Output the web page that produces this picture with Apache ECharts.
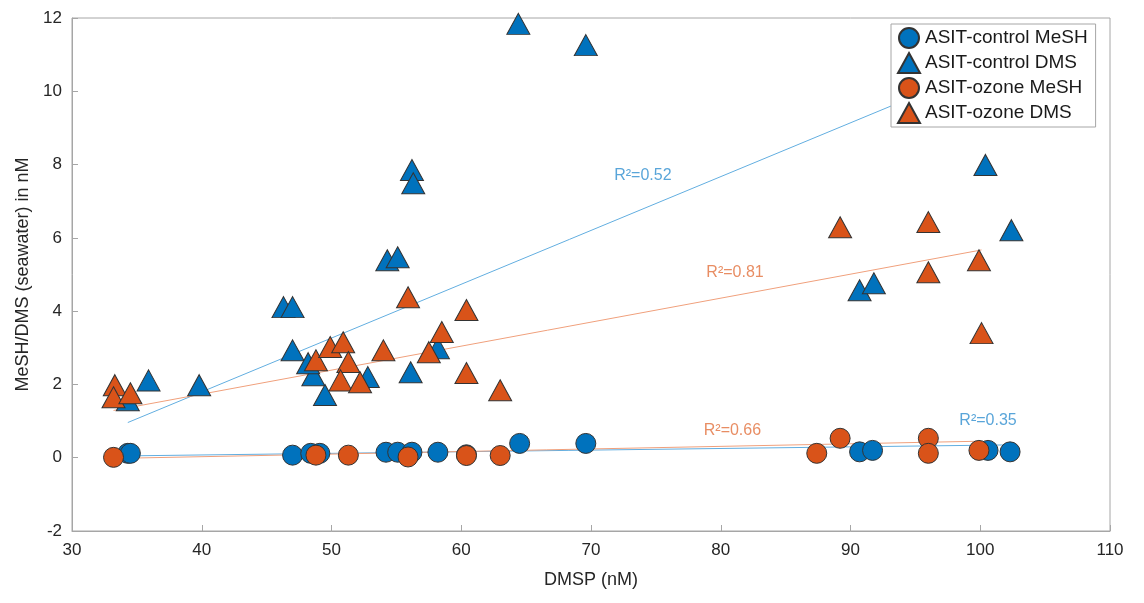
<!DOCTYPE html>
<html>
<head>
<meta charset="utf-8">
<script src="https://cdn.jsdelivr.net/npm/echarts@6/dist/echarts.min.js"></script>
<style>
html, body { margin: 0; padding: 0; background: #fff; }
#chart { width: 1144px; height: 603px; }
</style>
</head>
<body>
<div id="chart"></div>
<script>
// [DMSP, MeSH] / [DMSP, DMS] in nM
const controlMeSH = [
  [34.3, 0.12], [34.5, 0.12], [47.0, 0.07], [48.4, 0.12], [49.1, 0.12],
  [54.2, 0.15], [55.1, 0.15], [56.2, 0.15], [58.2, 0.15], [60.4, 0.08],
  [64.5, 0.39], [69.6, 0.39], [90.7, 0.16], [91.7, 0.2], [100.6, 0.2], [102.3, 0.16]
]
const controlDMS = [
  [34.3, 1.57], [35.9, 2.11], [39.8, 1.98], [46.3, 4.11], [47.0, 4.11],
  [47.0, 2.93], [48.6, 2.25], [48.2, 2.58], [49.5, 1.71], [52.8, 2.2],
  [56.2, 7.85], [56.3, 7.49], [54.3, 5.39], [55.1, 5.47], [58.2, 2.99],
  [56.1, 2.33], [64.4, 11.84], [69.6, 11.26], [100.4, 7.99], [102.4, 6.21],
  [90.7, 4.57], [91.8, 4.76]
]
const ozoneMeSH = [
  [33.2, 0.01], [48.8, 0.07], [51.3, 0.07], [55.9, 0.02], [60.4, 0.06],
  [63.0, 0.06], [87.4, 0.12], [89.2, 0.53], [96.0, 0.53], [96.0, 0.12], [99.9, 0.2]
]
const ozoneDMS = [
  [33.3, 1.98], [33.2, 1.65], [34.5, 1.76], [48.8, 2.66], [49.9, 3.02],
  [50.9, 3.15], [51.3, 2.61], [50.7, 2.11], [52.2, 2.06], [55.9, 4.38],
  [60.4, 4.03], [58.5, 3.43], [57.5, 2.88], [54.0, 2.93], [60.4, 2.31],
  [63.0, 1.84], [89.2, 6.29], [96.0, 6.43], [96.0, 5.06], [99.9, 5.39], [100.1, 3.4]
]
// fitted lines, end points
const fitControlDMS = [[34.3, 0.96], [102.4, 10.96]]
const fitOzoneDMS = [[33.2, 1.29], [100.1, 5.67]]
const fitControlMeSH = [[34.3, 0.05], [102.3, 0.35]]
const fitOzoneMeSH = [[33.2, -0.02], [99.9, 0.45]]
// R² labels: [x, y, text]
const r2Control = [[74.0, 7.71, 'R²=0.52'], [100.6, 1.02, 'R²=0.35']]
const r2Ozone = [[81.1, 5.04, 'R²=0.81'], [80.9, 0.75, 'R²=0.66']]

const blue = '#0072BD'
const orange = '#D95319'
const font = 'Liberation Sans, Arial, sans-serif'

const chart = echarts.init(document.getElementById('chart'))

function fitLine (data, color) {
  return {
    type: 'line',
    data: data,
    showSymbol: false,
    silent: true,
    z: 1,
    lineStyle: { color: color, width: 1 }
  }
}

function scatter (name, data, symbol, size, color) {
  return {
    name: name,
    type: 'scatter',
    data: data,
    symbol: symbol,
    symbolSize: size,
    z: 3,
    itemStyle: { color: color, borderColor: '#333', borderWidth: 1, opacity: 1 }
  }
}

function r2 (data, color) {
  return {
    type: 'scatter',
    data: data,
    symbolSize: 1,
    silent: true,
    z: 4,
    itemStyle: { color: 'rgba(0,0,0,0)' },
    label: {
      show: true,
      position: 'inside',
      formatter: p => p.data[2],
      color: color,
      fontSize: 16,
      fontFamily: font
    }
  }
}

chart.setOption({
  animation: false,
  textStyle: { fontFamily: font },
  grid: {
    left: 72,
    right: 34,
    top: 18,
    bottom: 72,
    show: true,
    borderColor: '#a6a6a6',
    borderWidth: 1
  },
  legend: {
    data: [
      { name: 'ASIT-control MeSH', icon: 'circle' },
      { name: 'ASIT-control DMS', icon: 'triangle' },
      { name: 'ASIT-ozone MeSH', icon: 'circle' },
      { name: 'ASIT-ozone DMS', icon: 'triangle' }
    ],
    orient: 'vertical',
    left: 891,
    top: 24,
    padding: [3, 8, 3, 6],
    itemGap: 3,
    itemWidth: 22,
    itemHeight: 20,
    backgroundColor: '#fff',
    borderColor: '#a6a6a6',
    borderWidth: 1,
    borderRadius: 0,
    textStyle: { fontSize: 19, lineHeight: 20, color: '#1a1a1a', padding: [0, 0, 0, 0] }
  },
  xAxis: {
    type: 'value',
    min: 30,
    max: 110,
    interval: 10,
    name: 'DMSP (nM)',
    nameLocation: 'middle',
    nameGap: 40,
    nameTextStyle: { fontSize: 18, color: '#262626' },
    axisLine: { onZero: false, lineStyle: { color: '#a6a6a6' } },
    axisTick: { inside: true, length: 6, lineStyle: { color: '#a6a6a6' } },
    axisLabel: { fontSize: 17, color: '#262626', margin: 11 },
    splitLine: { show: false }
  },
  yAxis: {
    type: 'value',
    min: -2,
    max: 12,
    interval: 2,
    name: 'MeSH/DMS (seawater) in nM',
    nameLocation: 'middle',
    nameGap: 32,
    nameTextStyle: { fontSize: 18, color: '#262626' },
    axisLine: { show: true, onZero: false, lineStyle: { color: '#a6a6a6' } },
    axisTick: { show: true, inside: true, length: 6, lineStyle: { color: '#a6a6a6' } },
    axisLabel: { fontSize: 17, color: '#262626', margin: 10 },
    splitLine: { show: false }
  },
  series: [
    fitLine(fitControlDMS, '#62aee0'),
    fitLine(fitOzoneDMS, '#f0a07c'),
    fitLine(fitControlMeSH, '#62aee0'),
    fitLine(fitOzoneMeSH, '#f0a07c'),
    scatter('ASIT-control MeSH', controlMeSH, 'circle', 20, blue),
    scatter('ASIT-control DMS', controlDMS, 'triangle', [23, 21], blue),
    scatter('ASIT-ozone MeSH', ozoneMeSH, 'circle', 20, orange),
    scatter('ASIT-ozone DMS', ozoneDMS, 'triangle', [23, 21], orange),
    r2(r2Control, '#2f8fd0'),
    r2(r2Ozone, '#e2703c')
  ]
})
</script>
</body>
</html>
